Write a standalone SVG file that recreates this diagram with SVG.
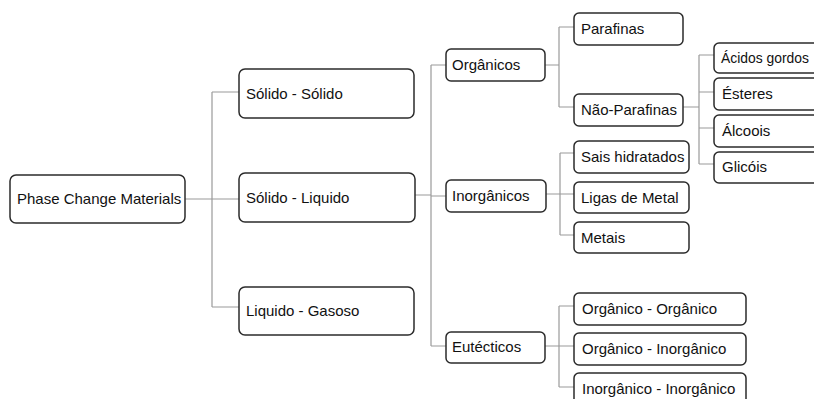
<svg xmlns="http://www.w3.org/2000/svg" width="814" height="399" viewBox="0 0 814 399">
<style>
.box{fill:#fff;stroke:#2b2b2b;stroke-width:1.5}
.lbl{font-family:"Liberation Sans",Arial,sans-serif;font-size:15px;fill:#111}
.con{fill:none;stroke:#9a9a9a;stroke-width:1.2}
</style>
<rect width="814" height="399" fill="#fff"/>
<g id="connectors" class="con">
<path d="M185,199 H239 M212,92 V307 M212,92 H239 M212,307 H239"/>
<path d="M415,195 H431 M431,65 V346 M431,65 H446 M431,196 H446 M431,346 H446"/>
<path d="M545,65 H559 M559,27 V107 M559,27 H574 M559,107 H574"/>
<path d="M683,107 H699 M699,55 V164 M699,55 H714 M699,92 H714 M699,128 H714 M699,164 H714"/>
<path d="M546,194 H574 M560,153 V235 M560,153 H574 M560,235 H574"/>
<path d="M545,346 H574 M559,306 V387 M559,306 H574 M559,387 H574"/>
</g>
<g id="pcm"><rect class="box" x="10" y="175" width="175" height="48" rx="6"/><text class="lbl" x="17" y="204">Phase Change Materials</text></g>
<g id="solido-solido"><rect class="box" x="239" y="69" width="175" height="49" rx="6"/><text class="lbl" x="246" y="99">Sólido - Sólido</text></g>
<g id="solido-liquido"><rect class="box" x="239" y="173" width="176" height="49" rx="6"/><text class="lbl" x="246" y="203">Sólido - Liquido</text></g>
<g id="liquido-gasoso"><rect class="box" x="239" y="287" width="175" height="48" rx="6"/><text class="lbl" x="246" y="316">Liquido - Gasoso</text></g>
<g id="organicos"><rect class="box" x="446" y="49" width="99" height="32" rx="5"/><text class="lbl" x="452" y="70">Orgânicos</text></g>
<g id="inorganicos"><rect class="box" x="446" y="180" width="100" height="32" rx="5"/><text class="lbl" x="452" y="201">Inorgânicos</text></g>
<g id="eutecticos"><rect class="box" x="446" y="332" width="99" height="31" rx="5"/><text class="lbl" x="452" y="352">Eutécticos</text></g>
<g id="parafinas"><rect class="box" x="574" y="13" width="109" height="32" rx="5"/><text class="lbl" x="581" y="34">Parafinas</text></g>
<g id="nao-parafinas"><rect class="box" x="574" y="94" width="109" height="32" rx="5"/><text class="lbl" x="581" y="115">Não-Parafinas</text></g>
<g id="acidos-gordos"><rect class="box" x="714" y="43" width="130" height="30" rx="5"/><text class="lbl" x="721" y="63" textLength="88" lengthAdjust="spacingAndGlyphs">Ácidos gordos</text></g>
<g id="esteres"><rect class="box" x="714" y="78" width="130" height="32" rx="5"/><text class="lbl" x="722" y="99">Ésteres</text></g>
<g id="alcoois"><rect class="box" x="714" y="115" width="130" height="32" rx="5"/><text class="lbl" x="722" y="136">Álcoois</text></g>
<g id="glicois"><rect class="box" x="714" y="152" width="130" height="31" rx="5"/><text class="lbl" x="722" y="172">Glicóis</text></g>
<g id="sais-hidratados"><rect class="box" x="574" y="141" width="115" height="32" rx="5"/><text class="lbl" x="581" y="162">Sais hidratados</text></g>
<g id="ligas-de-metal"><rect class="box" x="574" y="182" width="115" height="31" rx="5"/><text class="lbl" x="581" y="203">Ligas de Metal</text></g>
<g id="metais"><rect class="box" x="574" y="222" width="115" height="31" rx="5"/><text class="lbl" x="581" y="243">Metais</text></g>
<g id="organico-organico"><rect class="box" x="574" y="293" width="172" height="32" rx="5"/><text class="lbl" x="582" y="314">Orgânico - Orgânico</text></g>
<g id="organico-inorganico"><rect class="box" x="574" y="333" width="172" height="32" rx="5"/><text class="lbl" x="582" y="354">Orgânico - Inorgânico</text></g>
<g id="inorganico-inorganico"><rect class="box" x="574" y="373" width="172" height="34" rx="5"/><text class="lbl" x="582" y="394">Inorgânico - Inorgânico</text></g>
</svg>
